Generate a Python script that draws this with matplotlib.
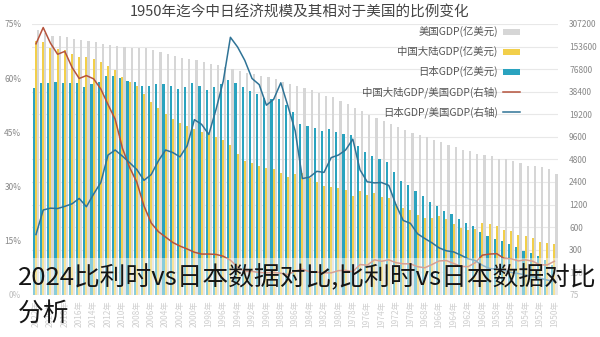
import matplotlib
matplotlib.use('Agg')  # no UI backend
import matplotlib.pyplot as plt
from matplotlib.patches import Rectangle
import numpy as np

plt.rcParams['font.family'] = ['Noto Sans CJK SC', 'DejaVu Sans']

years = list(range(1950, 2023))

# GDP (亿美元)
us_gdp = [3000, 3480, 3670, 3890, 3900, 4250, 4490, 4740, 4820, 5220,
          5430, 5630, 6050, 6380, 6860, 7440, 8150, 8620, 9430, 10190,
          10730, 11650, 12790, 14250, 15450, 16850, 18730, 20830, 23520, 26320,
          28570, 32070, 33430, 36340, 40370, 43390, 45800, 48550, 52360, 56420,
          59630, 61580, 65200, 68590, 72870, 76400, 81000, 86080, 90890, 96610,
          102510, 105820, 109360, 114580, 122140, 130370, 138150, 144520, 147130, 144490,
          149920, 155430, 161970, 167850, 175270, 182380, 187450, 195430, 206110, 214330,
          210600, 233150, 254640]
cn_gdp = [280, 290, 305, 360, 380, 400, 450, 480, 550, 590,
          597, 500, 472, 507, 594, 704, 767, 728, 709, 797,
          926, 998, 1137, 1385, 1441, 1634, 1539, 1749, 1495, 1783,
          1911, 1958, 2050, 2303, 2599, 3094, 3005, 2729, 3124, 3477,
          3609, 3834, 4269, 4447, 5643, 7345, 8637, 9615, 10290, 10940,
          12110, 13390, 14710, 16600, 19550, 22860, 27520, 35500, 45940, 51020,
          60870, 75510, 85320, 95700, 104750, 110620, 112330, 123100, 138940, 142800,
          146880, 177340, 179630]
jp_gdp = [110, 143, 170, 196, 215, 250, 280, 320, 340, 380,
          443, 537, 608, 699, 817, 910, 1058, 1237, 1469, 1720,
          2127, 2403, 3184, 4322, 4798, 5217, 5868, 7212, 10130, 10550,
          11050, 12180, 11340, 12430, 13180, 13980, 20780, 25320, 30720, 30540,
          31330, 35840, 39080, 44540, 49990, 54490, 47870, 44150, 40330, 45620,
          49680, 43740, 41830, 45190, 48930, 48310, 46010, 45790, 51060, 52890,
          57590, 62330, 62720, 52120, 48970, 44450, 50030, 49300, 50410, 51180,
          50550, 50050, 42560]

# 比例 (%)
cn_ratio = [9.3, 8.3, 8.3, 9.3, 9.7, 9.4, 10.0, 10.1, 11.4, 11.3,
            11.0, 8.9, 7.8, 7.9, 8.7, 9.5, 9.4, 8.4, 7.5, 7.8,
            8.6, 8.6, 8.9, 9.7, 9.3, 9.7, 8.2, 8.4, 6.4, 6.8,
            6.7, 6.1, 6.1, 6.3, 6.4, 7.1, 6.6, 5.6, 6.0, 6.2,
            6.1, 6.2, 6.5, 6.5, 7.7, 9.6, 10.7, 11.2, 11.3, 11.3,
            11.8, 12.7, 13.5, 14.5, 16.0, 17.5, 19.9, 24.6, 31.2, 35.3,
            40.6, 48.6, 52.7, 57.0, 59.8, 60.7, 59.9, 63.0, 67.4, 66.6,
            69.7, 74.0, 69.5]
jp_ratio = [3.7, 4.1, 4.6, 5.0, 5.5, 5.9, 6.2, 6.8, 7.1, 7.3,
            8.2, 9.5, 10.0, 11.0, 11.9, 12.2, 13.0, 14.4, 15.6, 16.9,
            19.8, 20.6, 24.9, 30.3, 31.1, 31.0, 31.3, 34.6, 43.1, 40.1,
            38.7, 38.0, 33.9, 34.2, 32.6, 32.2, 45.4, 52.2, 58.7, 54.1,
            52.5, 58.2, 59.9, 64.9, 68.6, 71.3, 59.1, 51.3, 44.4, 47.2,
            48.5, 41.3, 38.2, 39.4, 40.1, 37.1, 33.3, 31.7, 34.7, 36.6,
            38.4, 40.1, 38.7, 31.1, 27.9, 24.4, 26.7, 25.2, 24.5, 23.9,
            24.0, 23.5, 16.7]

title = "1950年迄今中日经济规模及其相对于美国的比例变化"
overlay = "2024比利时vs日本数据对比,比利时vs日本数据对比\n分析"

fig = plt.figure(figsize=(6, 3.37), dpi=100)
ax = fig.add_axes([0.054, 0.125, 0.876, 0.804])

x = np.array(years)
w = 0.3
ax.bar(x - 0.3, us_gdp, width=w, bottom=75, color='#d6d6d6', label='美国GDP(亿美元)')
ax.bar(x, cn_gdp, width=w, bottom=75, color='#f2cf4a', label='中国大陆GDP(亿美元)')
ax.bar(x + 0.3, jp_gdp, width=w, bottom=75, color='#2aa3bf', label='日本GDP(亿美元)')
ax.set_yscale('log', base=2)
ax.set_ylim(75, 307200)
ticks = [75 * 2 ** k for k in range(13)]
ax.set_yticks(ticks)
ax.set_yticklabels([str(t) for t in ticks])
ax.minorticks_off()
ax.grid(axis='y', color='#e8e8e8', lw=0.8)
ax.set_axisbelow(True)
ax.set_xlim(2022.5, 1949.5)
ax.set_xticks(years[::2])
ax.set_xticklabels([f"{y}年" for y in years[::2]], rotation=90)
ax.tick_params(axis='x', labelsize=6, colors='#aaaaaa', length=0, pad=4)
for s in ax.spines.values():
    s.set_visible(False)

ax2 = ax.twinx()
ax2.plot(x, cn_ratio, color='#b5533c', lw=1.1, label='中国大陆GDP/美国GDP(右轴)')
ax2.plot(x, jp_ratio, color='#2f7396', lw=1.1, label='日本GDP/美国GDP(右轴)')
ax2.set_ylim(0, 75)
ax2.set_yticks([0, 15, 30, 45, 60, 75])
ax2.set_yticklabels(['0%', '15%', '30%', '45%', '60%', '75%'])
for s in ax2.spines.values():
    s.set_visible(False)

# swap sides: GDP scale on the right, percentages on the left
ax.yaxis.tick_right()
ax.tick_params(axis='y', labelsize=6, colors='#888888', length=0, pad=8,
               left=False, labelleft=False, right=True, labelright=True)
ax2.yaxis.tick_left()
ax2.tick_params(axis='y', labelsize=6, colors='#888888', length=0, pad=8,
                right=False, labelright=False, left=True, labelleft=True)

h1, l1 = ax.get_legend_handles_labels()
h2, l2 = ax2.get_legend_handles_labels()
leg = ax2.legend(h1 + h2, l1 + l2, loc='upper right', bbox_to_anchor=(0.945, 1.025),
                 frameon=False, markerfirst=False, fontsize=7.5, labelspacing=0.85,
                 handlelength=1.6, handleheight=0.5, handletextpad=0.5)
for t in leg.get_texts():
    t.set_color('#555555')

fig.text(0.5, 0.963, title, ha='center', va='center', fontsize=10.5, color='#444444')

# white haze behind the big caption
fig.patches.append(Rectangle((0, 0), 1, 0.235, transform=fig.transFigure,
                             facecolor='white', alpha=0.45, edgecolor='none', zorder=5))
fig.text(0.03, 0.215, overlay, ha='left', va='top', fontsize=18.5, color='#151515',
         linespacing=1.45, zorder=6)

fig.savefig('out.png', dpi=100)
